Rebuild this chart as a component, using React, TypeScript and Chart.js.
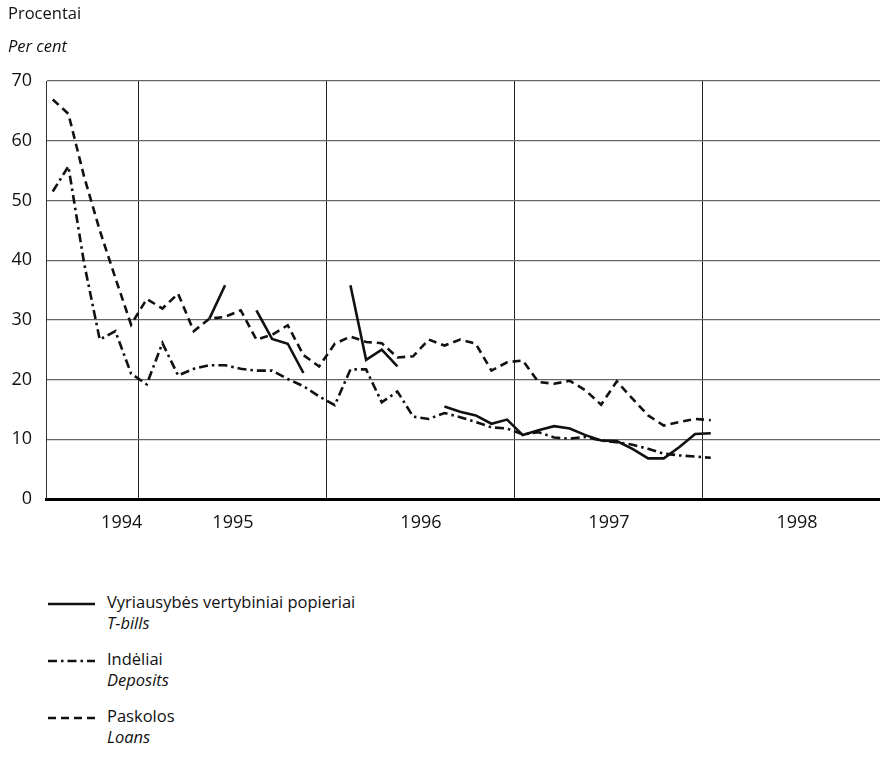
import React, { useEffect, useRef } from "react";
import { Chart, registerables } from "chart.js";

Chart.register(...registerables);

// Monthly observations, July 1994 – January 1998
const monthLabels = [
  "1994-07", "1994-08", "1994-09", "1994-10", "1994-11", "1994-12",
  "1995-01", "1995-02", "1995-03", "1995-04", "1995-05", "1995-06",
  "1995-07", "1995-08", "1995-09", "1995-10", "1995-11", "1995-12",
  "1996-01", "1996-02", "1996-03", "1996-04", "1996-05", "1996-06",
  "1996-07", "1996-08", "1996-09", "1996-10", "1996-11", "1996-12",
  "1997-01", "1997-02", "1997-03", "1997-04", "1997-05", "1997-06",
  "1997-07", "1997-08", "1997-09", "1997-10", "1997-11", "1997-12",
  "1998-01",
];

const tBills: (number | null)[] = [
  null, null, null, null, null, null,
  null, null, null, null, 30.2, 35.8,
  null, 31.6, 26.8, 26.0, 21.1, null,
  null, 35.8, 23.3, 25.0, 22.2, null,
  null, 15.5, 14.6, 14.0, 12.6, 13.3,
  10.7, 11.5, 12.2, 11.8, 10.7, 9.8,
  9.7, 8.4, 6.8, 6.8, 8.7, 10.9,
  11.0,
];

const deposits: number[] = [
  51.5, 55.7, 39.5, 26.7, 28.1, 21.0,
  19.2, 26.1, 20.7, 21.8, 22.4, 22.4,
  21.8, 21.5, 21.5, 20.1, 18.9, 17.2,
  15.7, 21.7, 21.7, 16.2, 18.0, 13.8,
  13.4, 14.4, 13.7, 12.9, 12.0, 11.8,
  10.8, 11.2, 10.3, 10.1, 10.4, 9.8,
  9.5, 9.1, 8.4, 7.6, 7.3, 7.1,
  6.9,
];

const loans: number[] = [
  66.9, 64.5, 54.0, 45.0, 37.0, 29.2,
  33.5, 31.9, 34.4, 28.1, 30.2, 30.5,
  31.6, 26.7, 27.5, 29.1, 24.1, 22.2,
  26.0, 27.2, 26.3, 26.1, 23.7, 23.9,
  26.7, 25.7, 26.7, 26.0, 21.5, 22.9,
  23.2, 19.6, 19.3, 19.8, 18.2, 15.8,
  19.7, 16.8, 14.0, 12.3, 12.9, 13.4,
  13.2,
];

// x axis: months counted from the start of 1994 (0 = 1 Jan 1994)
const yearBoundaries = [12, 24, 36, 48];
const yearLabels = ["1994", "1995", "1996", "1997", "1998"];
const yearLabelPositions = [10.9, 18, 30, 42, 54];
const yTicks = [0, 10, 20, 30, 40, 50, 60, 70];

const FONT = "'Open Sans', 'DejaVu Sans', sans-serif";

function toPoints(values: (number | null)[]) {
  return values.map((v, i) => {
    const [y, m] = monthLabels[i].split("-").map(Number);
    return { x: (y - 1994) * 12 + m - 0.5, y: v };
  });
}

export default function App() {
  const ref = useRef<HTMLCanvasElement | null>(null);

  useEffect(() => {
    document.body.style.margin = "0";
    const canvas = ref.current;
    if (!canvas) return;
    const chart = new Chart(canvas, {
      type: "line",
      data: {
        datasets: [
          {
            label: "T-bills",
            data: toPoints(tBills) as any,
            borderColor: "#111",
            borderWidth: 2.6,
            pointRadius: 0,
            spanGaps: false,
            tension: 0,
          },
          {
            label: "Deposits",
            data: toPoints(deposits) as any,
            borderColor: "#111",
            borderWidth: 2.6,
            borderDash: [9, 4, 2.5, 4],
            pointRadius: 0,
            tension: 0,
          },
          {
            label: "Loans",
            data: toPoints(loans) as any,
            borderColor: "#111",
            borderWidth: 2.6,
            borderDash: [8, 5],
            pointRadius: 0,
            tension: 0,
          },
        ],
      },
      options: {
        animation: false,
        responsive: false,
        maintainAspectRatio: false,
        layout: { padding: { top: 81, right: 0, bottom: 21, left: 0 } },
        plugins: { legend: { display: false }, tooltip: { enabled: false } },
        scales: {
          x: {
            type: "linear",
            min: 6.07,
            max: 59.3,
            afterBuildTicks: (scale: any) => {
              const vals = [...yearBoundaries, ...yearLabelPositions].sort((a, b) => a - b);
              scale.ticks = vals.map((v) => ({ value: v }));
            },
            afterFit: (scale: any) => {
              scale.height = 40;
            },
            grid: {
              drawTicks: false,
              color: (ctx: any) =>
                ctx.tick && yearBoundaries.includes(ctx.tick.value) ? "#222" : "rgba(0,0,0,0)",
              lineWidth: 1,
            },
            border: { display: true, color: "#000", width: 3 },
            ticks: {
              autoSkip: false,
              maxRotation: 0,
              padding: 13,
              color: "#111",
              font: { family: FONT, size: 18 },
              callback: (value: any) => {
                const idx = yearLabelPositions.indexOf(Number(value));
                return idx >= 0 ? yearLabels[idx] : "";
              },
            },
          },
          y: {
            min: 0,
            max: 70,
            afterBuildTicks: (scale: any) => {
              scale.ticks = yTicks.map((v) => ({ value: v }));
            },
            afterFit: (scale: any) => {
              scale.width = 46;
            },
            grid: { drawTicks: false, color: "#666", lineWidth: 1.2 },
            border: { display: true, color: "#333", width: 1 },
            ticks: {
              padding: 14,
              color: "#111",
              font: { family: FONT, size: 18 },
            },
          },
        },
      },
    });
    return () => chart.destroy();
  }, []);

  const textStyle: React.CSSProperties = {
    fontFamily: FONT,
    fontSize: 16.5,
    lineHeight: "21px",
    color: "#111",
    margin: 0,
  };

  const legend = [
    { main: "Vyriausybės vertybiniai popieriai", en: "T-bills", dash: "", top: 591 },
    { main: "Indėliai", en: "Deposits", dash: "9 4 2.5 4", top: 648 },
    { main: "Paskolos", en: "Loans", dash: "8 5", top: 705 },
  ];

  return (
    <div style={{ position: "relative", width: 880, height: 782, background: "#fff", overflow: "hidden" }}>
      <canvas ref={ref} width={880} height={560} style={{ position: "absolute", left: 0, top: 0 }} />
      <div style={{ position: "absolute", left: 8, top: 2, ...textStyle }}>
        <div>Procentai</div>
        <div style={{ fontStyle: "italic", marginTop: 12 }}>Per cent</div>
      </div>
      {legend.map((it) => (
        <div key={it.en} style={{ position: "absolute", left: 0, top: it.top, width: 600, height: 50 }}>
          <svg width={100} height={30} style={{ position: "absolute", left: 46, top: 0 }}>
            <line x1={2} y1={13} x2={49} y2={13} stroke="#111" strokeWidth={2.6} strokeDasharray={it.dash || undefined} />
          </svg>
          <div style={{ position: "absolute", left: 107, top: 0, ...textStyle }}>
            <div>{it.main}</div>
            <div style={{ fontStyle: "italic" }}>{it.en}</div>
          </div>
        </div>
      ))}
    </div>
  );
}
